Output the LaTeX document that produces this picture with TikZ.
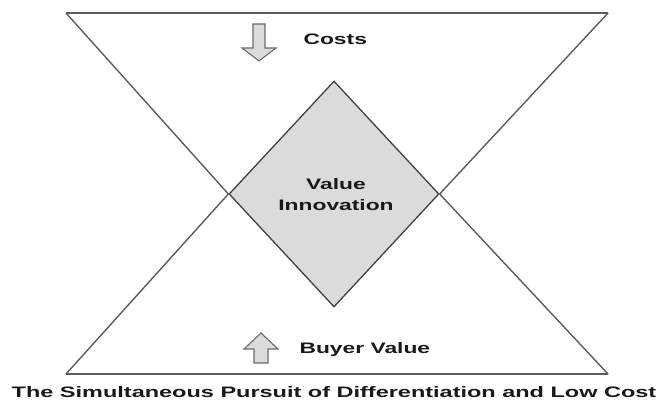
\documentclass[tikz,border=0pt]{standalone}
\usepackage{fontspec}
\setmainfont{Liberation Sans}
\usetikzlibrary{shapes.geometric}
\definecolor{lGray}{gray}{0.36}
\definecolor{dGray}{gray}{0.25}
\definecolor{fGray}{gray}{0.86}
\definecolor{tGray}{gray}{0.1}
\tikzset{
    txt/.style={font=\fontsize{7.6}{10.5}\selectfont\bfseries, text=tGray, xscale=1.5, inner sep=0pt},
    edge/.style={line width=0.7pt, lGray},
    barrow/.style={line width=0.55pt, draw=gray!85!black, fill=fGray, line join=miter}
}

\begin{document}
\begin{tikzpicture}[x=0.5pt,y=-0.5pt]
\useasboundingbox (0,0) rectangle (658,400);
% corners of the two triangles
\coordinate (tl) at ( 66, 13);
\coordinate (tr) at (608, 13);
\coordinate (bl) at ( 66,374);
\coordinate (br) at (608,374);
% overlap
\node[diamond, draw=dGray, line width=0.65pt, fill=fGray, inner sep=0pt,
      minimum width=105pt, minimum height=113pt] (vi) at (334,194) {};
\draw[edge] (tl) -- (tr);
\draw[edge] (bl) -- (br);
\draw[edge] (tl) -- (vi.west);
\draw[edge] (tr) -- (vi.east);
\draw[edge] (bl) -- (vi.west);
\draw[edge] (br) -- (vi.east);
\node[txt, align=center] (vitxt) at (336,195) {Value\\Innovation};
% arrows
\draw[barrow] (253,24) -- (265,24) -- (265,48) -- (276,48) -- (259,61)
              -- (242,48) -- (253,48) -- cycle;
\draw[barrow] (254,363) -- (268,363) -- (268,349) -- (278,349) -- (261,333)
              -- (244,349) -- (254,349) -- cycle;
\node[txt, anchor=base west] (costs) at (303,45) {Costs};
\node[txt, anchor=base west] (buyer) at (299,354) {Buyer Value};
\node[txt, xscale=1.03, anchor=base] (caption) at (334,398)
    {The Simultaneous Pursuit of Differentiation and Low Cost};
\end{tikzpicture}
\end{document}
